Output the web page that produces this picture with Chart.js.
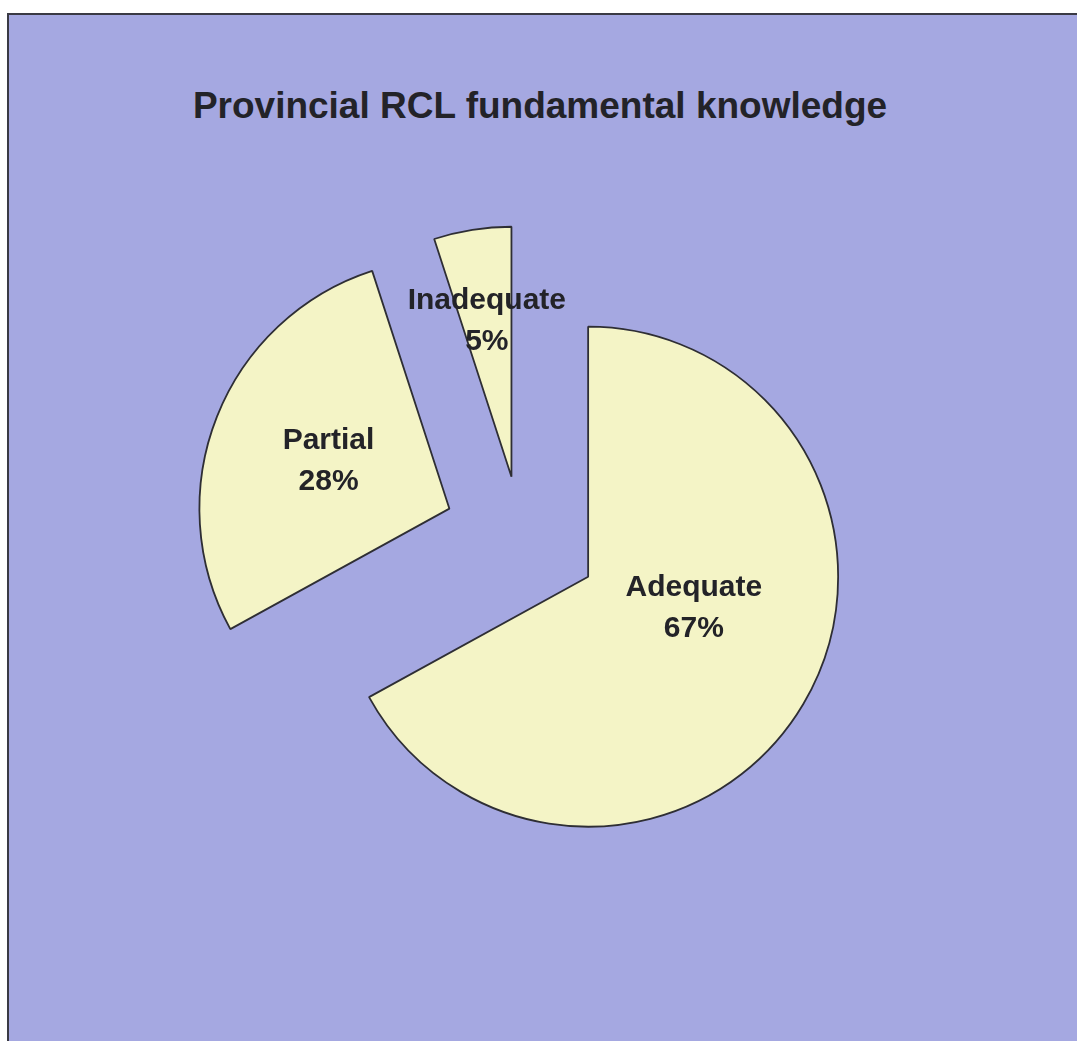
<!DOCTYPE html>
<html>
<head>
<meta charset="utf-8">
<script src="https://cdn.jsdelivr.net/npm/chart.js@4"></script>
<style>
    html, body { margin: 0; padding: 0; background: #ffffff; }
    body { width: 1077px; height: 1041px; position: relative; overflow: hidden; }
    #frame {
        position: absolute; left: 7px; top: 13px; right: 0; bottom: 0;
        background: #a5a8e1;
        border-left: 2px solid #3a3a44;
        border-top: 2px solid #3a3a44;
    }
    #title {
        position: absolute; left: 0; width: 1080px; top: 85px;
        text-align: center;
        font: bold 37px "Liberation Sans", Arial, sans-serif;
        color: #232328;
    }
    #wrap { position: absolute; left: 0; top: 0; width: 1077px; height: 1041px; }
</style>
</head>
<body>
<div id="frame"></div>
<div id="title">Provincial RCL fundamental knowledge</div>
<div id="wrap"><canvas id="pie"></canvas></div>
<script>
(function() {
    'use strict';

    // data
    const categories = ['Adequate', 'Partial', 'Inadequate'];
    const shares = [67, 28, 5];

    // how far each slice is pulled out, and where its label sits
    // (share of the slice's sweep, share of the radius)
    const explode = [78, 77, 61];
    const labelSweep = [0.44, 0.5, 0.5];
    const labelAt = [0.44, 0.52, 0.63];

    const explodePlugin = {
        id: 'explode',
        afterDatasetsUpdate(chart) {
            const meta = chart.getDatasetMeta(0);
            meta.data.forEach((arc, i) => {
                const mid = (arc.startAngle + arc.endAngle) / 2;
                arc.x += Math.cos(mid) * explode[i];
                arc.y += Math.sin(mid) * explode[i];
            });
        }
    };

    const labelPlugin = {
        id: 'sliceLabels',
        afterDatasetsDraw(chart) {
            const ctx = chart.ctx;
            const meta = chart.getDatasetMeta(0);
            ctx.save();
            ctx.font = 'bold 30px "Liberation Sans", Arial, sans-serif';
            ctx.fillStyle = '#232328';
            ctx.textAlign = 'center';
            ctx.textBaseline = 'middle';
            meta.data.forEach((arc, i) => {
                const a = arc.startAngle + (arc.endAngle - arc.startAngle) * labelSweep[i];
                const r = arc.outerRadius * labelAt[i];
                const x = arc.x + Math.cos(a) * r;
                const y = arc.y + Math.sin(a) * r;
                ctx.fillText(categories[i], x, y - 20);
                ctx.fillText(shares[i] + '%', x, y + 21);
            });
            ctx.restore();
        }
    };

    new Chart(document.getElementById('pie'), {
        type: 'pie',
        data: {
            labels: categories,
            datasets: [{
                data: shares,
                backgroundColor: '#f4f4c6',
                borderColor: '#2e2e34',
                borderWidth: 1.8
            }]
        },
        options: {
            responsive: true,
            maintainAspectRatio: false,
            animation: false,
            events: [],
            radius: 250,
            layout: { padding: { left: 0, right: 35, top: 33, bottom: 0 } },
            plugins: {
                legend: { display: false },
                tooltip: { enabled: false },
                title: { display: false }
            }
        },
        plugins: [explodePlugin, labelPlugin]
    });
})();
</script>
</body>
</html>
